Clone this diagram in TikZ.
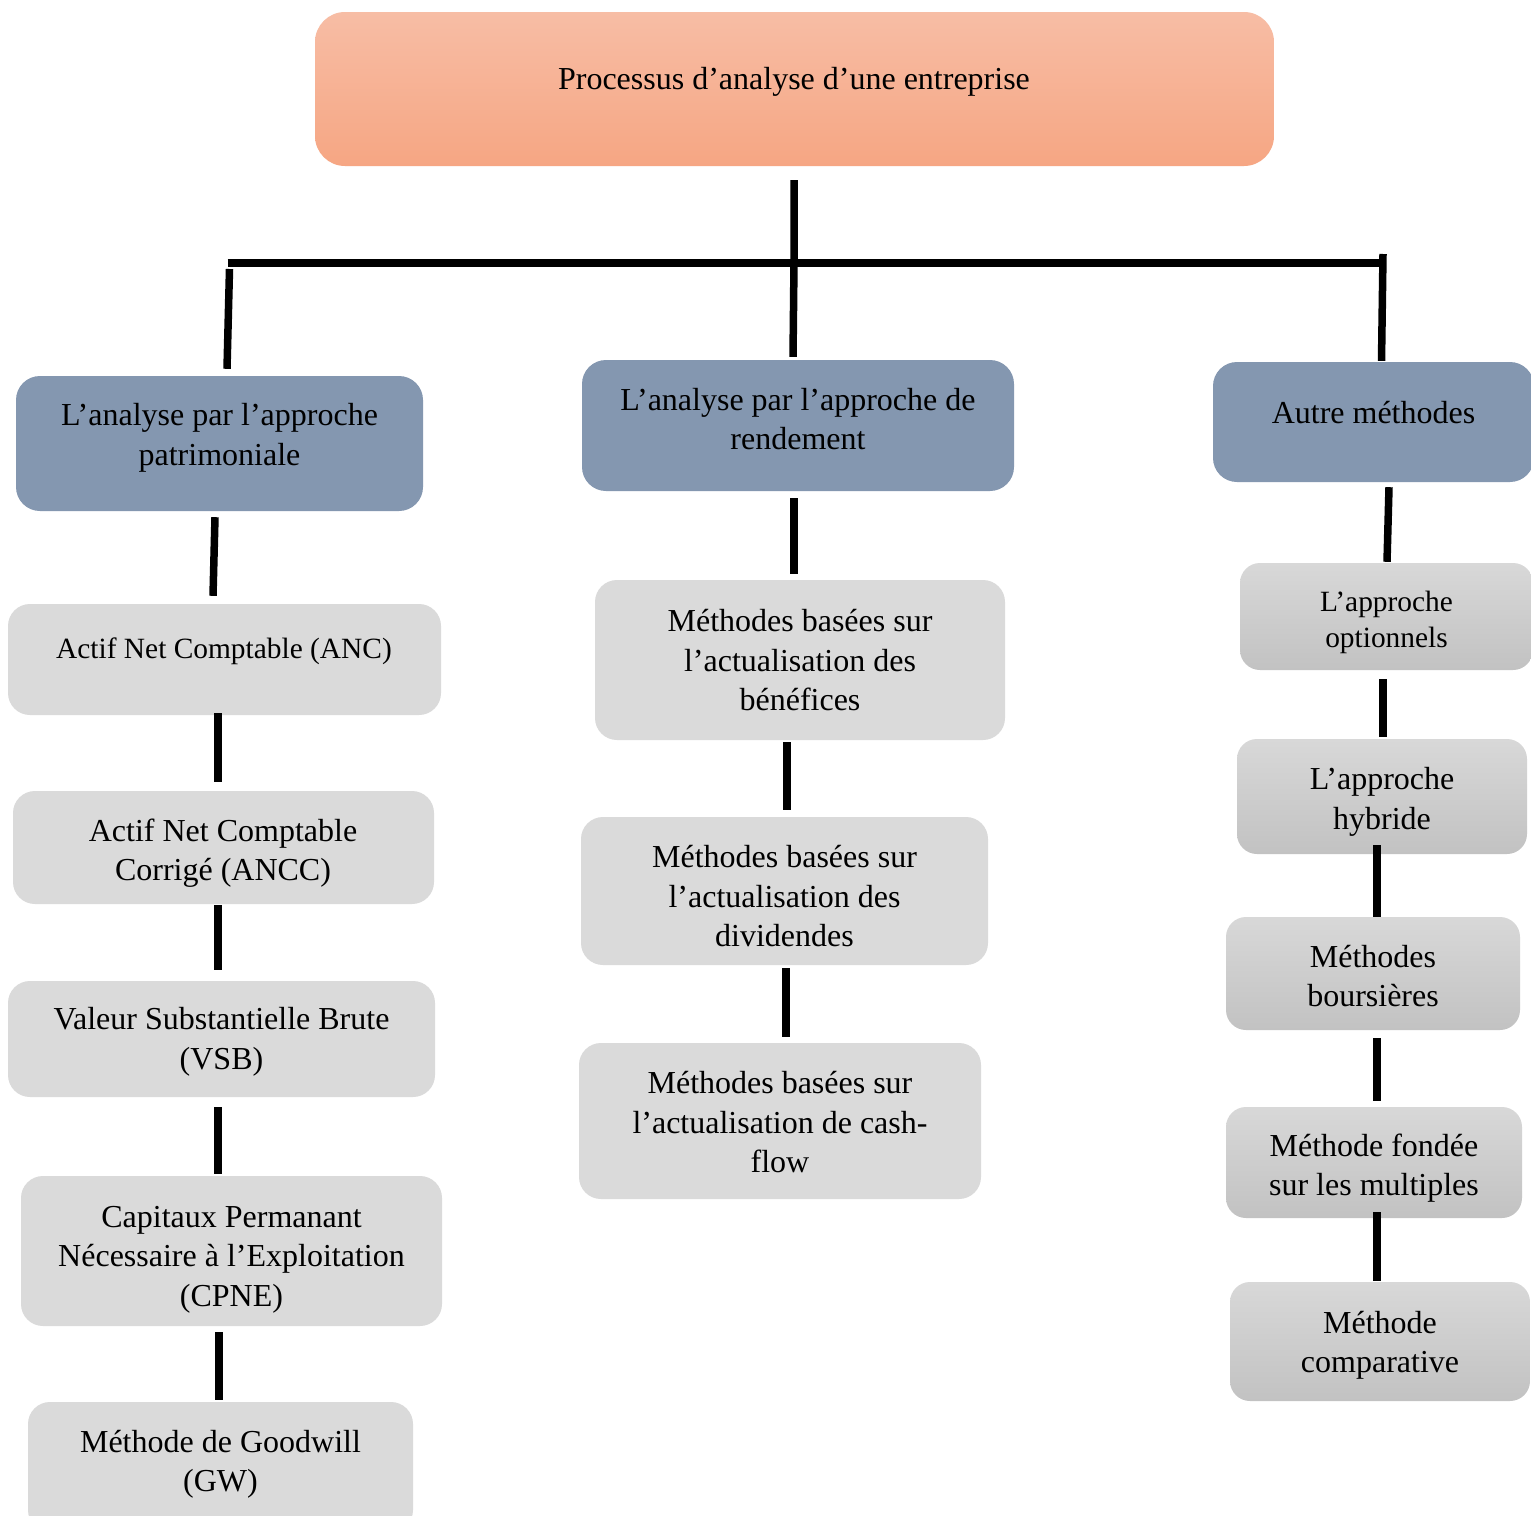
\documentclass[tikz,border=0pt]{standalone}
\usepackage{fontspec}
\setmainfont{Liberation Serif}
\definecolor{bluebox}{HTML}{8497B0}
\definecolor{greybox}{HTML}{DADADA}
\definecolor{grtop}{HTML}{D8D8D8}
\definecolor{grbot}{HTML}{C2C2C2}
\definecolor{ortop}{HTML}{F7BDA5}
\definecolor{orbot}{HTML}{F6A683}
\begin{document}
\begin{tikzpicture}[x=1pt,y=-1pt,
  boxbase/.style={rectangle, inner sep=0pt, draw=none},
  topbox/.style={boxbase, rounded corners=30pt, top color=ortop, bottom color=orbot},
  bbox/.style={boxbase, rounded corners=24pt, fill=bluebox},
  gbox/.style={boxbase, rounded corners=22pt, fill=greybox},
  shbox/.style={boxbase, rounded corners=20pt, top color=grtop, bottom color=grbot},
  lbl/.style={inner sep=0pt, align=center, font=\fontsize{32}{39.5}\selectfont},
  slbl/.style={inner sep=0pt, align=center, font=\fontsize{29.4}{36}\selectfont},
  conn/.style={line width=7.5pt, black}]
\useasboundingbox (0,0) rectangle (1531,1515);
\fill[white] (0,0) rectangle (1531,1515);

% top
\node[topbox, minimum width=959, minimum height=154] (TOP) at (794.5,89) {};
\node[lbl] (tTOP) at (794,82) {Processus d’analyse d’une entreprise};

% level 1
\node[bbox, minimum width=407, minimum height=135] (B1) at (219.5,443.5) {};
\node[lbl] (tB1) at (219.5,438) {L’analyse par l’approche\\patrimoniale};
\node[bbox, minimum width=432, minimum height=131] (B2) at (798,425.5) {};
\node[lbl] (tB2) at (798,419) {L’analyse par l’approche de\\rendement};
\node[bbox, minimum width=321, minimum height=120] (B3) at (1373.5,422) {};
\node[lbl] (tB3) at (1373.5,413) {Autre méthodes};

% left column
\node[gbox, minimum width=433, minimum height=111] (ANC) at (224.5,659.5) {};
\node[slbl] (tANC) at (224,651.5) {Actif Net Comptable (ANC)};
\node[gbox, minimum width=421, minimum height=113] (ANCC) at (223.5,847.5) {};
\node[lbl] (tANCC) at (223,853) {Actif Net Comptable\\Corrigé (ANCC)};
\node[gbox, minimum width=427, minimum height=116] (VSB) at (221.5,1039) {};
\node[lbl] (tVSB) at (221.5,1042) {Valeur Substantielle Brute\\(VSB)};
\node[gbox, minimum width=421, minimum height=150] (CPNE) at (231.5,1251) {};
\node[lbl] (tCPNE) at (231.5,1259.5) {Capitaux Permanant\\Nécessaire à l’Exploitation\\(CPNE)};
\node[gbox, minimum width=385, minimum height=130] (GW) at (220.5,1467) {};
\node[lbl] (tGW) at (220.5,1464.5) {Méthode de Goodwill\\(GW)};

% middle column
\node[gbox, minimum width=410, minimum height=160] (BEN) at (800,660) {};
\node[lbl] (tBEN) at (800,660.5) {Méthodes basées sur\\l’actualisation des\\bénéfices};
\node[gbox, minimum width=407, minimum height=148] (DIV) at (784.5,891) {};
\node[lbl] (tDIV) at (784.5,896.5) {Méthodes basées sur\\l’actualisation des\\dividendes};
\node[gbox, minimum width=402, minimum height=156] (CF) at (780,1121) {};
\node[lbl] (tCF) at (780,1122.5) {Méthodes basées sur\\l’actualisation de cash-\\flow};

% right column
\node[shbox, minimum width=293, minimum height=107] (OPT) at (1386.5,616.5) {};
\node[slbl] (tOPT) at (1386.5,622) {L’approche\\optionnels};
\node[shbox, minimum width=290, minimum height=115] (HYB) at (1382,796.5) {};
\node[lbl] (tHYB) at (1382,802) {L’approche\\hybride};
\node[shbox, minimum width=294, minimum height=113] (BOU) at (1373,973.5) {};
\node[lbl] (tBOU) at (1373,976) {Méthodes\\boursières};
\node[shbox, minimum width=296, minimum height=111] (MUL) at (1374,1162.5) {};
\node[lbl] (tMUL) at (1374,1168) {Méthode fondée\\sur les multiples};
\node[shbox, minimum width=300, minimum height=119] (COM) at (1380,1341.5) {};
\node[lbl] (tCOM) at (1380,1345.5) {Méthode\\comparative};

% branching
\coordinate (J) at (794,263);
\coordinate (HL) at (227.5,263);
\coordinate (HR) at (1384,263);
\draw[conn] ([shift={(-0.5,14)}]TOP.south) -- (J) -- ([shift={(-5,-3)}]B2.north);
\draw[conn] (HL) -- (HR);
\draw[conn] ([shift={(2,6)}]HL) -- ([shift={(7.5,-7)}]B1.north);
\draw[conn] ([shift={(-1,-9)}]HR) -- ([shift={(8,-1)}]B3.north);

% left connectors
\draw[conn] ([shift={(-4.5,6)}]B1.south) -- ([shift={(-11.5,-8)}]ANC.north);
\draw[conn] ([shift={(-6.5,-2)}]ANC.south) -- ([shift={(-5.5,-9)}]ANCC.north);
\draw[conn] ([shift={(-5.5,1)}]ANCC.south) -- ([shift={(-3.5,-11)}]VSB.north);
\draw[conn] ([shift={(-3.5,10)}]VSB.south) -- ([shift={(-13.5,-2)}]CPNE.north);
\draw[conn] ([shift={(-12.5,6)}]CPNE.south) -- ([shift={(-1.5,-2)}]GW.north);

% middle connectors
\draw[conn] ([shift={(-4,7)}]B2.south) -- ([shift={(-6,-6)}]BEN.north);
\draw[conn] ([shift={(-13,2)}]BEN.south) -- ([shift={(2.5,-7)}]DIV.north);
\draw[conn] ([shift={(1.5,3)}]DIV.south) -- ([shift={(6,-6)}]CF.north);

% right connectors
\draw[conn] ([shift={(15.5,5)}]B3.south) -- ([shift={(0.5,-1)}]OPT.north);
\draw[conn] ([shift={(-3.5,9)}]OPT.south) -- ([shift={(1,-2)}]HYB.north);
\draw[conn] ([shift={(-5,-9)}]HYB.south) -- ([shift={(4,0)}]BOU.north);
\draw[conn] ([shift={(4,8)}]BOU.south) -- ([shift={(3,-6)}]MUL.north);
\draw[conn] ([shift={(3,-6)}]MUL.south) -- ([shift={(-3,-1)}]COM.north);
\end{tikzpicture}
\end{document}
